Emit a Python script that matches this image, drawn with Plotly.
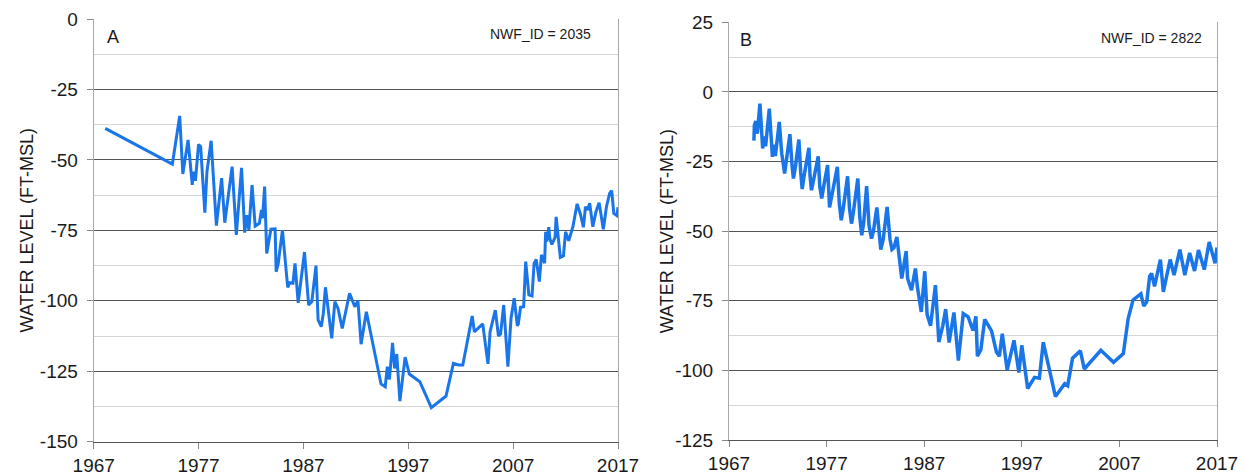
import plotly.graph_objects as go

# well A (NWF_ID 2035)
years_a = [1968.1, 1974.5, 1975.2, 1975.5, 1976.0, 1976.4, 1976.5, 1976.7, 1977.0, 1977.2,
           1977.6, 1977.8, 1978.2, 1978.7, 1979.2, 1979.5, 1980.2, 1980.6, 1981.1, 1981.4,
           1981.6, 1981.8, 1982.1, 1982.4, 1982.8, 1983.0, 1983.1, 1983.3, 1983.5, 1983.9,
           1984.3, 1984.4, 1984.6, 1985.0, 1985.5, 1985.7, 1986.0, 1986.2, 1986.5, 1987.1,
           1987.5, 1987.8, 1988.2, 1988.4, 1988.7, 1988.9, 1989.1, 1989.7, 1990.0, 1990.3,
           1990.7, 1991.4, 1991.9, 1992.2, 1992.5, 1993.0, 1994.4, 1994.8, 1995.0, 1995.2,
           1995.5, 1995.7, 1995.9, 1996.2, 1996.7, 1997.1, 1998.1, 1999.2, 2000.6, 2001.3,
           2001.8, 2002.2, 2003.1, 2003.3, 2004.1, 2004.6, 2004.8, 2005.3, 2005.6, 2005.8,
           2006.1, 2006.5, 2006.8, 2007.1, 2007.4, 2007.5, 2007.7, 2008.0, 2008.2, 2008.5,
           2008.8, 2009.0, 2009.2, 2009.5, 2009.7, 2010.0, 2010.1, 2010.2, 2010.4, 2010.5,
           2010.7, 2011.0, 2011.1, 2011.5, 2011.8, 2012.0, 2012.3, 2012.7, 2013.1, 2013.4,
           2013.7, 2013.9, 2014.1, 2014.3, 2014.6, 2014.9, 2015.2, 2015.6, 2015.9, 2016.2,
           2016.4, 2016.6, 2016.9, 2017.0]
level_a = [-38.8, -51.5, -34.4, -55.0, -42.9, -58.9, -54.2, -57.4, -44.5, -45.3,
           -68.7, -54.2, -43.2, -73.3, -56.5, -72.3, -52.4, -76.6, -52.8, -75.8,
           -69.6, -74.9, -58.9, -73.5, -72.5, -67.8, -70.7, -59.5, -83.2, -74.6,
           -74.5, -89.7, -86.7, -74.9, -95.2, -93.6, -93.8, -86.7, -100.7, -82.7,
           -101.5, -100.3, -87.5, -106.8, -109.2, -104.4, -95.2, -113.3, -100.3, -102.7,
           -109.8, -97.3, -102.1, -100.0, -115.4, -103.9, -129.5, -130.5, -123.4, -127.9,
           -114.9, -124.0, -118.9, -135.6, -120.0, -126.0, -128.7, -137.9, -133.8, -122.2,
           -122.8, -122.8, -105.4, -111.0, -108.2, -122.4, -111.0, -103.3, -112.5, -111.8,
           -101.5, -123.4, -106.2, -99.1, -108.9, -108.2, -102.3, -102.1, -86.1, -97.9,
           -98.3, -86.7, -85.3, -93.2, -83.7, -86.7, -75.5, -79.0, -73.9, -78.0,
           -80.0, -77.5, -70.2, -84.6, -84.0, -75.5, -78.7, -73.7, -65.6, -69.0,
           -73.9, -66.6, -67.8, -65.4, -73.7, -68.4, -65.2, -74.6, -66.6, -61.9,
           -60.9, -69.0, -69.8, -66.8]

# well B (NWF_ID 2822)
years_b = [1969.55, 1969.6, 1969.75, 1969.9, 1970.17, 1970.3, 1970.45, 1970.6, 1970.75, 1971.13,
           1971.35, 1971.45, 1971.6, 1971.75, 1972.15, 1972.4, 1972.7, 1972.85, 1973.24, 1973.45,
           1973.6, 1973.8, 1974.16, 1974.35, 1974.5, 1974.7, 1975.19, 1975.3, 1975.45, 1975.7,
           1976.14, 1976.3, 1976.5, 1976.7, 1977.1, 1977.3, 1977.5, 1978.1, 1978.3, 1978.5,
           1978.7, 1979.15, 1979.35, 1979.55, 1979.75, 1980.2, 1980.4, 1980.6, 1980.8, 1981.1,
           1981.35, 1981.6, 1981.8, 1982.15, 1982.55, 1982.8, 1983.2, 1983.5, 1983.7, 1983.9,
           1984.2, 1984.7, 1985.15, 1985.3, 1985.7, 1986.1, 1986.3, 1986.7, 1987.06, 1987.3,
           1987.65, 1988.15, 1988.5, 1988.9, 1989.2, 1989.55, 1990.05, 1990.5, 1991.0, 1991.5,
           1992.0, 1992.3, 1992.45, 1992.8, 1993.2, 1993.9, 1994.4, 1994.7, 1995.0, 1995.5,
           1996.2, 1996.7, 1997.0, 1997.6, 1998.3, 1998.8, 1999.2, 2000.45, 2001.4, 2001.7,
           2002.2, 2003.0, 2003.4, 2005.1, 2006.4, 2007.4, 2007.9, 2008.4, 2009.2, 2009.5,
           2009.8, 2010.1, 2010.3, 2010.6, 2011.2, 2011.5, 2012.2, 2012.6, 2013.2, 2013.7,
           2014.2, 2014.7, 2015.1, 2015.7, 2016.2, 2016.8, 2017.0]
level_b = [-17.5, -12.0, -10.5, -15.0, -4.2, -12.0, -20.3, -16.0, -19.5, -6.0,
           -17.0, -23.3, -19.0, -23.0, -10.8, -22.0, -29.3, -25.0, -15.2, -26.0,
           -31.1, -27.0, -17.1, -29.0, -34.9, -30.0, -20.1, -30.0, -35.3, -31.0,
           -23.1, -34.0, -38.3, -34.0, -26.3, -41.5, -38.0, -26.9, -40.0, -46.1,
           -42.0, -30.3, -42.0, -47.3, -43.0, -31.1, -45.0, -51.5, -47.0, -33.8,
           -48.0, -52.7, -50.0, -41.5, -56.6, -53.0, -41.3, -53.0, -56.6, -56.0,
           -52.1, -67.0, -57.2, -67.0, -71.2, -63.4, -70.0, -79.0, -64.4, -80.0,
           -84.0, -69.4, -89.8, -84.0, -78.0, -90.0, -79.2, -96.5, -79.6, -80.8,
           -85.6, -80.6, -94.9, -92.7, -81.7, -85.8, -93.4, -94.9, -86.8, -99.9,
           -89.2, -100.8, -91.0, -106.5, -102.5, -102.8, -89.9, -109.4, -104.8, -105.5,
           -95.6, -93.0, -99.5, -92.8, -97.1, -94.0, -81.4, -74.7, -72.5, -76.9,
           -75.4, -66.2, -65.2, -69.8, -60.2, -71.8, -60.2, -65.8, -56.6, -65.8,
           -57.8, -64.3, -56.8, -63.8, -53.9, -61.5, -55.9]

year_ticks = [1967, 1977, 1987, 1997, 2007, 2017]
level_ticks_a = [0, -25, -50, -75, -100, -125, -150]
level_labels_a = ["0", "-25", "-50", "-75", "-100", "-125", "-150"]
level_ticks_b = [25, 0, -25, -50, -75, -100, -125]
level_labels_b = ["25", "0", "-25", "-50", "-75", "-100", "-125"]

line_blue = "#1a76e8"
font = "Liberation Sans, Arial, sans-serif"

# the page body adds an 8px margin, so the figure is drawn 8px smaller
W, H, OFF = 1238, 467, 8


def px_x(x):
    return (x - OFF) / W


def px_y(y):
    return 1 - (y - OFF) / H


fig = go.Figure()
fig.add_trace(go.Scatter(x=years_a, y=level_a, mode="lines", xaxis="x", yaxis="y",
                         line=dict(color=line_blue, width=3)))
fig.add_trace(go.Scatter(x=years_b, y=level_b, mode="lines", xaxis="x2", yaxis="y2",
                         line=dict(color=line_blue, width=3.5)))

xax = dict(range=[1967, 2017], tickvals=year_ticks, showgrid=False, zeroline=False,
           automargin=False,
           showline=True, linecolor="#555555", linewidth=1, ticks="outside", ticklen=6,
           tickcolor="#888888", tickfont=dict(size=19, color="#1a1a1a"))
yax = dict(showgrid=True, gridcolor="#555555", gridwidth=1, zeroline=False, automargin=False,
           minor=dict(dtick=12.5, showgrid=True, gridcolor="#d6d6d6", gridwidth=1),
           showline=True, mirror=True, linecolor="#a8a8a8", linewidth=1,
           ticks="outside", ticklen=6, tickcolor="#888888", ticklabelstandoff=5,
           tickfont=dict(size=19, color="#1a1a1a"))

fig.update_layout(
    width=W, height=H,
    margin=dict(l=0, r=0, t=0, b=0),
    paper_bgcolor="white", plot_bgcolor="white",
    showlegend=False,
    font=dict(family=font),
    xaxis=dict(xax, domain=[px_x(93.7), px_x(618)], anchor="y"),
    yaxis=dict(yax, range=[-150, 0], tickvals=level_ticks_a, ticktext=level_labels_a,
               domain=[px_y(441.7), px_y(19)], anchor="x"),
    xaxis2=dict(xax, domain=[px_x(729), px_x(1217)], anchor="y2"),
    yaxis2=dict(yax, range=[-125, 25], tickvals=level_ticks_b, ticktext=level_labels_b,
                domain=[px_y(440), px_y(22.3)], anchor="x2"),
)

title = "WATER LEVEL (FT-MSL)"
notes = [
    dict(x=px_x(26.7), y=px_y(230.7), text=title, textangle=-90, font=dict(size=18, color="#1a1a1a")),
    dict(x=px_x(666.7), y=px_y(231.6), text=title, textangle=-90, font=dict(size=18, color="#1a1a1a")),
    dict(x=px_x(113), y=px_y(37), text="A", font=dict(size=18, color="#1a1a1a")),
    dict(x=px_x(746), y=px_y(40), text="B", font=dict(size=18, color="#1a1a1a")),
    dict(x=px_x(540), y=px_y(34), text="NWF_ID = 2035", font=dict(size=14, color="#1a1a1a")),
    dict(x=px_x(1151), y=px_y(38), text="NWF_ID = 2822", font=dict(size=14, color="#1a1a1a")),
]
for n in notes:
    fig.add_annotation(xref="paper", yref="paper", showarrow=False,
                       xanchor="center", yanchor="middle", **n)

fig.write_html("out.html")
